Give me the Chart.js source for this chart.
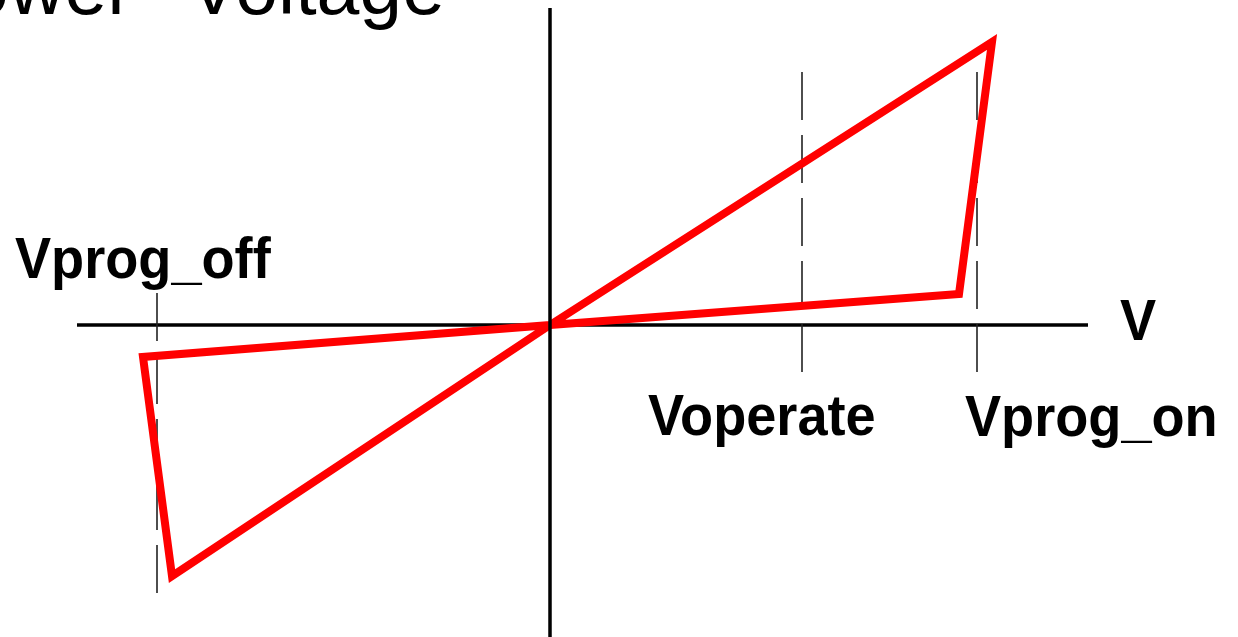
<!DOCTYPE html>
<html>
<head>
<meta charset="utf-8">
<script src="https://cdn.jsdelivr.net/npm/chart.js@4.4.1/dist/chart.umd.min.js"></script>
<style>
  html, body { margin: 0; padding: 0; background: #ffffff; overflow: hidden; }
  canvas { display: block; }
</style>
</head>
<body>
<canvas id="c" width="1238" height="637"></canvas>
<script>
// ---- data (schematic units) ----
const titleWords = ['Lower', 'Voltage'];
const loopV = [0, 4.42, 4.09, 0, -4.07, -3.78, 0];     // hysteresis loop, voltage
const loopI = [0, 2.83, 0.31, 0, -0.32, -2.51, 0];     // hysteresis loop, current
const markerNames = ['Vprog_off', 'Voperate', 'Vprog_on'];
const markerV = [-3.93, 2.52, 4.27];
const markerTop = [0.32, 2.53, 2.53];
const markerBottom = [-2.68, -0.48, -0.48];
const axisVRange = [-4.73, 5.38];
const axisIRange = [3.17, -3.12];
const axisName = 'V';

const pts = (xs, ys) => xs.map((x, i) => ({ x: x, y: ys[i] }));

const datasets = [];
datasets.push({
  label: 'vaxis', data: pts([0, 0], axisIRange), showLine: true,
  borderColor: '#000', borderWidth: 3.5, pointRadius: 0, order: 0
});
datasets.push({
  label: 'loop', data: pts(loopV, loopI), showLine: true,
  borderColor: '#ff0000', borderWidth: 8, pointRadius: 0, tension: 0,
  borderJoinStyle: 'miter', order: 1
});
markerV.forEach((v, i) => {
  datasets.push({
    label: markerNames[i], data: pts([v, v], [markerTop[i], markerBottom[i]]), showLine: true,
    borderColor: '#222', borderWidth: 1.6, borderDash: [48, 15], pointRadius: 0, order: 2
  });
});
datasets.push({
  label: 'haxis', data: pts(axisVRange, [0, 0]), showLine: true,
  borderColor: '#000', borderWidth: 3.5, pointRadius: 0, order: 3
});

const bgPlugin = {
  id: 'bg',
  beforeDraw(chart) {
    const ctx = chart.ctx;
    ctx.save();
    ctx.fillStyle = '#ffffff';
    ctx.fillRect(0, 0, chart.width, chart.height);
    ctx.restore();
  }
};

function drawText(ctx, text, x, y, font, sx) {
  ctx.save();
  ctx.font = font;
  ctx.translate(x, y);
  ctx.scale(sx, 1);
  ctx.textAlign = 'left';
  ctx.textBaseline = 'alphabetic';
  ctx.fillText(text, 0, 0);
  ctx.restore();
}

const textPlugin = {
  id: 'texts',
  afterDraw(chart) {
    const ctx = chart.ctx;
    const xs = chart.scales.x, ys = chart.scales.y;
    ctx.save();
    ctx.fillStyle = '#000';
    // title (partly outside the picture)
    ctx.font = '77px "Liberation Sans", Arial, sans-serif';
    ctx.textBaseline = 'alphabetic';
    ctx.textAlign = 'right';
    ctx.fillText(titleWords[1], 445, 14);
    ctx.fillText(titleWords[0], 133, 14);
    // marker labels
    const lf = 'bold 57px "Liberation Sans", Arial, sans-serif';
    const offs = [-142, -154, -12];
    const base = [278, 435, 436];
    markerNames.forEach((n, i) => {
      drawText(ctx, n, xs.getPixelForValue(markerV[i]) + offs[i], base[i], lf, 0.95);
    });
    drawText(ctx, axisName, xs.getPixelForValue(axisVRange[1]) + 32, ys.getPixelForValue(0) + 15, lf, 0.95);
    ctx.restore();
  }
};

new Chart(document.getElementById('c'), {
  type: 'scatter',
  data: { datasets: datasets },
  options: {
    responsive: false,
    animation: false,
    layout: { padding: 0 },
    plugins: { legend: { display: false }, tooltip: { enabled: false }, title: { display: false } },
    scales: {
      x: { type: 'linear', min: -5.5, max: 6.88, display: false },
      y: { type: 'linear', min: -3.12, max: 3.25, display: false }
    },
    elements: { line: { capBezierPoints: false } }
  },
  plugins: [bgPlugin, textPlugin]
});
</script>
</body>
</html>
